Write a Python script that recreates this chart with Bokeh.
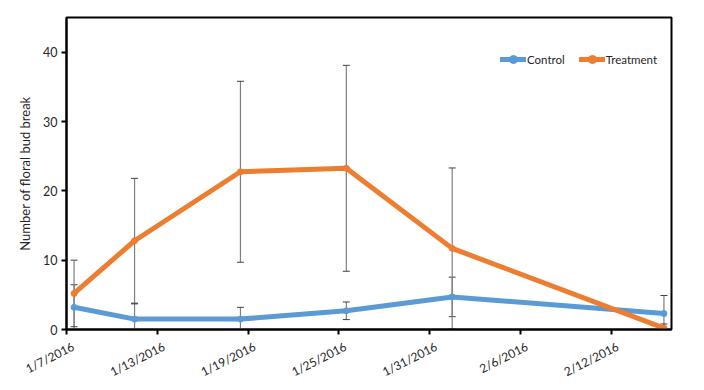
import math
from datetime import date
from bokeh.plotting import figure
from bokeh.models import (FixedTicker, Whisker, TeeHead, ColumnDataSource, Legend, LegendItem,
                          Range1d, LinearAxis)
from bokeh.embed import file_html
from bokeh.resources import INLINE

# ---- data ----
dates = ["2016-01-07", "2016-01-11", "2016-01-18", "2016-01-25", "2016-02-01", "2016-02-15"]
control = [3.2, 1.5, 1.5, 2.7, 4.7, 2.3]
control_err = [3.25, 2.2, 1.7, 1.27, 2.85, 2.6]
treatment = [5.2, 12.8, 22.75, 23.25, 11.7, 0.2]
treatment_err = [4.8, 9.0, 13.05, 14.85, 11.6, 0.6]
tick_labels = ["1/7/2016", "1/13/2016", "1/19/2016", "1/25/2016", "1/31/2016", "2/6/2016", "2/12/2016"]
y_ticks = [0, 10, 20, 30, 40]

start = date(2016, 1, 7)
def day_num(s):
    y, m, d = map(int, s.split("-"))
    return (date(y, m, d) - start).days

x = [day_num(d) + 0.5 for d in dates]
tick_pos = [6 * i for i in range(len(tick_labels))]
label_shift = 0.45  # label anchor offset (days) to mimic Excel label placement
label_pos = [t + label_shift for t in tick_pos]

FONT = "Lato"
BLUE = "#5B9BD5"
ORANGE = "#ED7D31"

p = figure(width=688, height=374, output_backend="svg", toolbar_location=None,
           x_range=Range1d(0, 40), y_range=Range1d(0, 45),
           frame_width=605, frame_height=312,
           min_border_left=66, min_border_top=17, min_border_right=17, min_border_bottom=45)
p.background_fill_color = "white"
p.border_fill_color = "white"
p.outline_line_color = "black"
p.outline_line_width = 2
p.xgrid.visible = False
p.ygrid.visible = False

def lower(v, e):
    return [a - b for a, b in zip(v, e)]
def upper(v, e):
    return [a + b for a, b in zip(v, e)]

for vals, errs in ((control, control_err), (treatment, treatment_err)):
    src = ColumnDataSource(dict(x=x, lo=lower(vals, errs), hi=upper(vals, errs)))
    w = Whisker(source=src, base="x", lower="lo", upper="hi", dimension="height",
                line_color="#7f7f7f", line_width=1.2, level="underlay",
                upper_head=TeeHead(size=7, line_color="#404040", line_width=1),
                lower_head=TeeHead(size=7, line_color="#404040", line_width=1))
    p.add_layout(w)

lc = p.line(x, control, line_color=BLUE, line_width=5, line_cap="round", line_join="round")
sc = p.scatter(x, control, size=6, color=BLUE)
lt = p.line(x, treatment, line_color=ORANGE, line_width=5, line_cap="round", line_join="round")
st = p.scatter(x, treatment, size=6, color=ORANGE)

legend = Legend(items=[LegendItem(label="Control", renderers=[lc, sc]),
                       LegendItem(label="Treatment", renderers=[lt, st])],
                orientation="horizontal", location=(434, 260),
                border_line_color=None, background_fill_alpha=0,
                padding=0, spacing=14, glyph_width=26, glyph_height=20,
                label_height=20, label_standoff=1, margin=0,
                label_text_font=FONT, label_text_font_size="11.5px", label_text_color="#262626")
p.add_layout(legend)

p.yaxis.ticker = FixedTicker(ticks=y_ticks)
p.xaxis.ticker = FixedTicker(ticks=tick_pos)
p.xaxis.major_label_overrides = {t: "" for t in tick_pos}
for ax in (p.xaxis[0], p.yaxis[0]):
    ax.axis_line_color = "black"
    ax.axis_line_width = 2
    ax.major_tick_line_color = "black"
    ax.major_tick_line_width = 2
    ax.major_tick_in = 0
    ax.major_tick_out = 5
    ax.minor_tick_line_color = None
    ax.major_label_text_font = FONT
    ax.major_label_text_font_size = "12.5px"
    ax.major_label_text_color = "#262626"
    ax.major_label_standoff = 4
p.xaxis.major_label_standoff = 0
p.xaxis.major_label_text_font_size = "1px"

# label-only axis for the rotated date labels
lab_ax = LinearAxis(ticker=FixedTicker(ticks=label_pos),
                    major_label_overrides={lp: l for lp, l in zip(label_pos, tick_labels)},
                    major_label_orientation=math.radians(27),
                    axis_line_color=None, major_tick_line_color=None, minor_tick_line_color=None,
                    major_tick_in=0, major_tick_out=0, major_label_standoff=11,
                    major_label_text_font=FONT, major_label_text_font_size="12px",
                    major_label_text_color="#262626")
p.add_layout(lab_ax, "below")

p.yaxis.axis_label = "Number of floral bud break"
p.yaxis.axis_label_text_font = FONT
p.yaxis.axis_label_text_font_size = "13px"
p.yaxis.axis_label_text_font_style = "normal"
p.yaxis.axis_label_text_color = "#262626"
p.yaxis.axis_label_standoff = 7

open("out.html", "w").write(file_html(p, INLINE))
